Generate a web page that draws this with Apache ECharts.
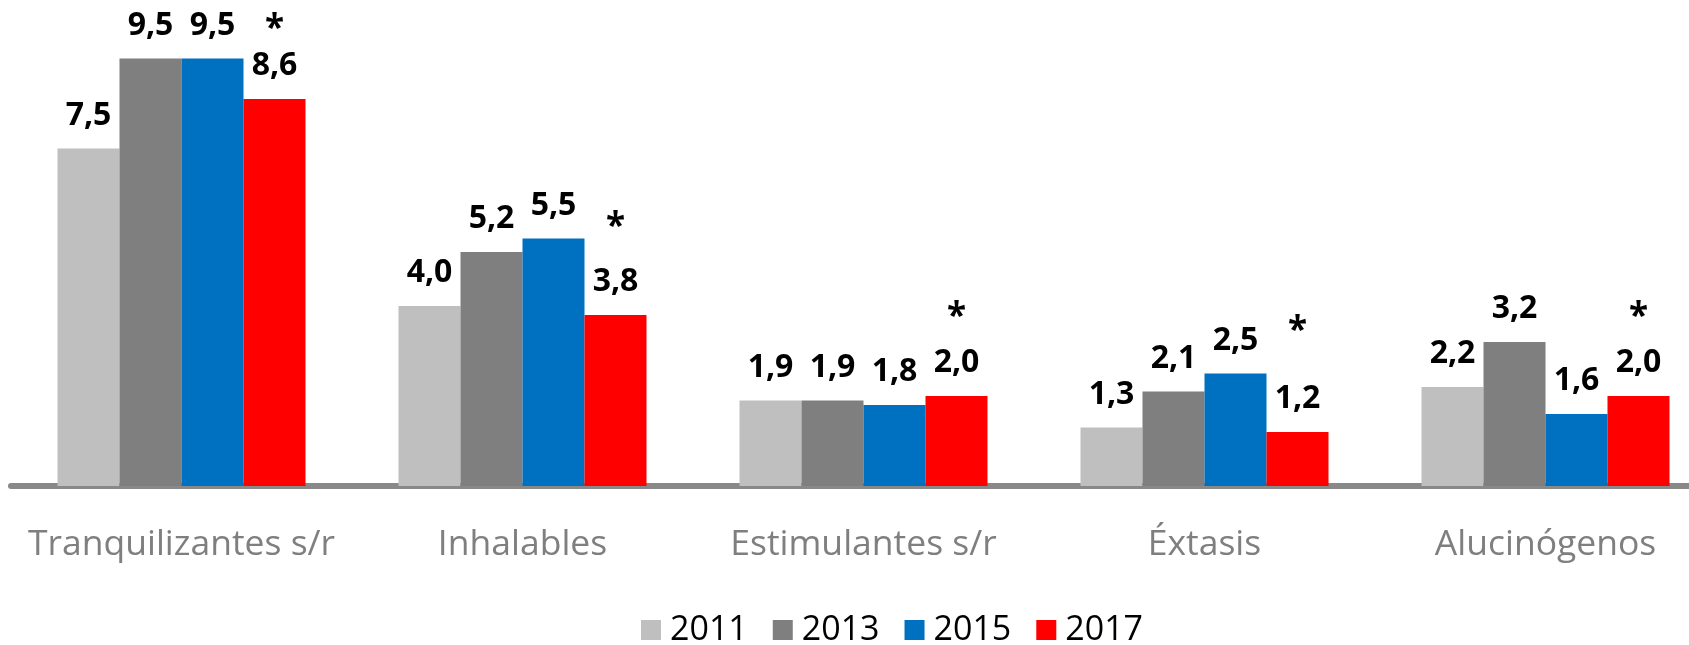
<!DOCTYPE html>
<html>
<head>
  <meta charset="utf-8">
  <script src="https://cdn.jsdelivr.net/npm/echarts@6/dist/echarts.min.js"></script>
  <style>
    html, body {margin: 0; padding: 0; background: #fff;}
    #chart {width: 1689px; height: 645px;}
  </style>
</head>
<body>
<div id="chart"></div>
<script>
  var categories = ['Tranquilizantes s/r', 'Inhalables', 'Estimulantes s/r', 'Éxtasis', 'Alucinógenos'];
  var years = ['2011', '2013', '2015', '2017'];
  var data2011 = [7.5, 4.0, 1.9, 1.3, 2.2];
  var data2013 = [9.5, 5.2, 1.9, 2.1, 3.2];
  var data2015 = [9.5, 5.5, 1.8, 2.5, 1.6];
  var data2017 = [8.6, 3.8, 2.0, 1.2, 2.0];
  // height (in data units) where each "*" sits above the 2017 bar
  var asteriskLevel = [10.2, 5.8, 3.8, 3.5, 3.8];

  var colors = ['#bfbfbf', '#7f7f7f', '#0070c0', '#ff0000'];

  var chart = echarts.init(document.getElementById('chart'));

  function fmt(p) {
    return p.value.toFixed(1).replace('.', ',');
  }

  function barSeries(name, data, color, stack) {
    return {
      name: name,
      type: 'bar',
      stack: stack,
      data: data,
      barWidth: 62,
      barGap: '0%',
      itemStyle: {color: color},
      label: {
        show: true,
        position: 'top',
        distance: 17,
        formatter: fmt,
        color: '#000',
        fontFamily: 'Open Sans',
        fontWeight: 'bold',
        fontSize: 32
      }
    };
  }

  var series = [
    barSeries(years[0], data2011, colors[0]),
    barSeries(years[1], data2013, colors[1]),
    barSeries(years[2], data2015, colors[2]),
    barSeries(years[3], data2017, colors[3], 's2017')
  ];

  // invisible bar on top of 2017, only carries the asterisk
  series.push({
    name: 'sig',
    type: 'bar',
    stack: 's2017',
    barWidth: 62,
    barGap: '0%',
    clip: false,
    data: asteriskLevel.map(function (v, i) { return +(v - data2017[i]).toFixed(2); }),
    itemStyle: {color: 'rgba(0,0,0,0)'},
    label: {
      show: true,
      position: 'top',
      distance: 0,
      offset: [0, 20],
      formatter: '*',
      color: '#000',
      fontFamily: 'Open Sans',
      fontWeight: 'bold',
      fontSize: 35
    }
  });

  var option = {
    animation: false,
    grid: {left: 11, width: 1705, top: 13.5, bottom: 159, outerBoundsMode: 'none'},
    legend: {
      data: years,
      left: 636,
      top: 608,
      icon: 'rect',
      itemWidth: 20,
      itemHeight: 20,
      itemGap: 25,
      textStyle: {fontFamily: 'Open Sans', fontSize: 34, color: '#000', padding: [0, 0, 0, 4]}
    },
    xAxis: {
      type: 'category',
      data: categories,
      axisLine: {lineStyle: {color: '#898989', width: 6}},
      axisTick: {show: false},
      axisLabel: {
        interval: 0,
        margin: 41,
        color: '#7f7f7f',
        fontFamily: 'Open Sans',
        fontSize: 35.5
      }
    },
    yAxis: {
      type: 'value',
      min: 0,
      max: 10.5,
      show: false,
      splitLine: {show: false}
    },
    series: series
  };

  chart.setOption(option);
</script>
</body>
</html>
